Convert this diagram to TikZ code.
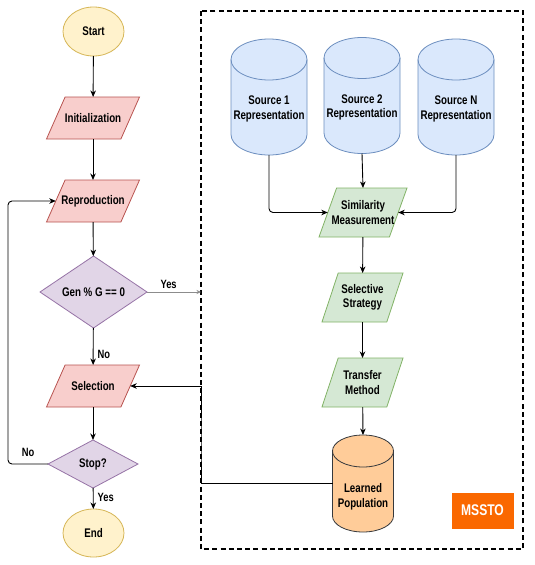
\documentclass[tikz,border=0pt]{standalone}
\usepackage{fontspec}
\setmainfont{Liberation Sans}[FakeStretch=0.78]
\usetikzlibrary{shapes.geometric,arrows.meta,calc,backgrounds}
\definecolor{yelF}{HTML}{FFF2CC}\definecolor{yelD}{HTML}{D6B656}
\definecolor{pinF}{HTML}{F8CECC}\definecolor{pinD}{HTML}{B85450}
\definecolor{purF}{HTML}{E1D5E7}\definecolor{purD}{HTML}{9673A6}
\definecolor{bluF}{HTML}{DAE8FC}\definecolor{bluD}{HTML}{6C8EBF}
\definecolor{grnF}{HTML}{D5E8D4}\definecolor{grnD}{HTML}{82B366}
\definecolor{orgF}{HTML}{FFCC99}\definecolor{orgD}{HTML}{36393D}
\definecolor{msF}{HTML}{FA6800}\definecolor{msD}{HTML}{C73500}
\definecolor{lgray}{HTML}{8C8C8C}
\tikzset{
  nodetext/.style={font=\fontsize{12.5}{14.5}\selectfont\bfseries, align=center, text=black},
  paranode/.style={nodetext, inner sep=0pt, outer sep=0pt},
  cylnode/.style={inner sep=0pt, outer sep=0pt},
  yelshape/.style={fill=yelF, draw=yelD, line width=0.8pt},
  pinshape/.style={fill=pinF, draw=pinD, line width=0.8pt},
  purshape/.style={fill=purF, draw=purD, line width=0.8pt},
  blushape/.style={fill=bluF, draw=bluD, line width=0.8pt},
  grnshape/.style={fill=grnF, draw=grnD, line width=0.8pt},
  orgshape/.style={fill=orgF, draw=orgD, line width=0.8pt},
  ovalnode/.style={ellipse, yelshape, nodetext, inner sep=0pt, outer sep=0pt},
  decnode/.style={diamond, purshape, nodetext, inner sep=0pt, outer sep=0pt},
  arr/.style={-{Stealth[length=6.5pt,width=5.5pt,inset=2pt]}, line width=0.9pt, black},
  grayarr/.style={-{Stealth[length=4.5pt,width=4pt,inset=1.5pt]}, line width=0.6pt, lgray},
  lbl/.style={font=\fontsize{12}{14}\selectfont\bfseries, text=black, inner sep=2pt},
  frame/.style={draw=black, line width=1.4pt, dash pattern=on 5pt off 3.2pt},
  msbox/.style={fill=msF, draw=msF, text=white, font=\fontsize{15.5}{17}\selectfont\bfseries, inner sep=0pt, outer sep=0pt}
}
% parallelogram: name, x, y, width, height, style, text
\newcommand\mypara[7]{%
  \node[paranode, minimum width={0.8*#4}, minimum height=#5] (#1) at (#2,#3) {#7};%
  \begin{scope}[on background layer]%
  \draw[#6] ($(#1.south west)+({-0.1*#4},0)$) -- ($(#1.south east)+({-0.1*#4},0)$) -- ($(#1.north east)+({0.1*#4},0)$) -- ($(#1.north west)+({0.1*#4},0)$) -- cycle;%
  \end{scope}}
% cylinder: name, x, y, width, height, ry, style, text, text shift
\newcommand\mycyl[9]{%
  \node[cylnode, minimum width=#4, minimum height=#5, label={[nodetext, yshift=#9]center:{#8}}] (#1) at (#2,#3) {};%
  \begin{scope}[on background layer]%
  \draw[#7] ($(#1.north west)+(0,-#6)$) -- ($(#1.south west)+(0,#6)$) arc[start angle=180,end angle=360,x radius={#4/2},y radius=#6] -- ($(#1.north east)+(0,-#6)$) arc[start angle=0,end angle=180,x radius={#4/2},y radius=#6] -- cycle;%
  \draw[#7, fill=none] ($(#1.north west)+(0,-#6)$) arc[start angle=180,end angle=360,x radius={#4/2},y radius=#6];%
  \end{scope}}
\begin{document}
\begin{tikzpicture}[x=1pt,y=1pt]
\useasboundingbox (0,0) rectangle (535,-565);
\begin{scope}[on background layer]
\fill[white] (0,0) rectangle (535,-565);
\end{scope}
% MSSTO frame
\draw[frame] (201,-11) rectangle (523,-549);
% left column
\node[ovalnode, minimum width=61pt, minimum height=49pt] (start) at (93.5,-31.5) {Start};
\mypara{init}{93}{-118}{93}{42}{pinshape}{Initialization}
\mypara{repro}{93}{-201}{93}{42}{pinshape}{Reproduction}
\node[decnode, minimum width=107pt, minimum height=72pt] (gen) at (93.5,-292) {Gen \% G == 0};
\mypara{sel}{93}{-386}{93}{42}{pinshape}{Selection}
\node[decnode, minimum width=90pt, minimum height=48pt] (stop) at (93,-464) {Stop?};
\node[ovalnode, minimum width=61pt, minimum height=48pt] (end) at (93.5,-533) {End};
% right column
\mycyl{s1}{269}{-97}{76}{116}{20.5}{blushape}{Source 1\\Representation}{-12}
\mycyl{s2}{362}{-95.5}{76}{116}{20.5}{blushape}{Source 2\\Representation}{-12}
\mycyl{sn}{456}{-97}{76}{116}{20.5}{blushape}{Source N\\Representation}{-12}
\mypara{sim}{363}{-212.5}{88}{49}{grnshape}{Similarity\\Measurement}
\mypara{strat}{362.5}{-297.5}{81}{49}{grnshape}{Selective\\Strategy}
\mypara{trans}{362.5}{-382.5}{81}{49}{grnshape}{Transfer\\Method}
\mycyl{lp}{363}{-483.5}{61}{97}{16}{orgshape}{Learned\\Population}{-13.5}
\node[msbox, minimum width=61pt, minimum height=35pt] (ms) at (482.5,-510.5) {MSSTO};
% coordinates for free ends / bends
\coordinate (yesend) at (201,-292);
\coordinate (jog) at (201,-440);
\coordinate (loopx) at (8,-330);
% connectors left
\draw[arr] (start) -- (init);
\draw[arr] (init) -- (repro);
\draw[arr] (repro) -- (gen);
\draw[arr] (gen) -- node[lbl, pos=0.72, right, xshift=2pt] {No} (sel);
\draw[arr] (sel) -- (stop);
\draw[arr] (stop) -- node[lbl, pos=0.45, right, xshift=2pt] {Yes} (end);
\draw[grayarr] (gen.east) -- node[lbl, pos=0.4, above, yshift=1pt] {Yes} (yesend);
\draw[arr, rounded corners=4pt] (stop.west) -| node[lbl, pos=0.25, above, yshift=5pt] {No} (loopx) |- (repro.west);
% connectors right
\draw[arr, rounded corners=4pt] (s1.south) |- (sim.west);
\draw[arr] (s2.south) -- (sim.north);
\draw[arr, rounded corners=4pt] (sn.south) |- (sim.east);
\draw[arr] (sim) -- (strat);
\draw[arr] (strat) -- (trans);
\draw[arr] (trans) -- (lp.north);
\draw[arr] (lp.west) -| (jog) |- (sel.east);
\end{tikzpicture}
\end{document}
